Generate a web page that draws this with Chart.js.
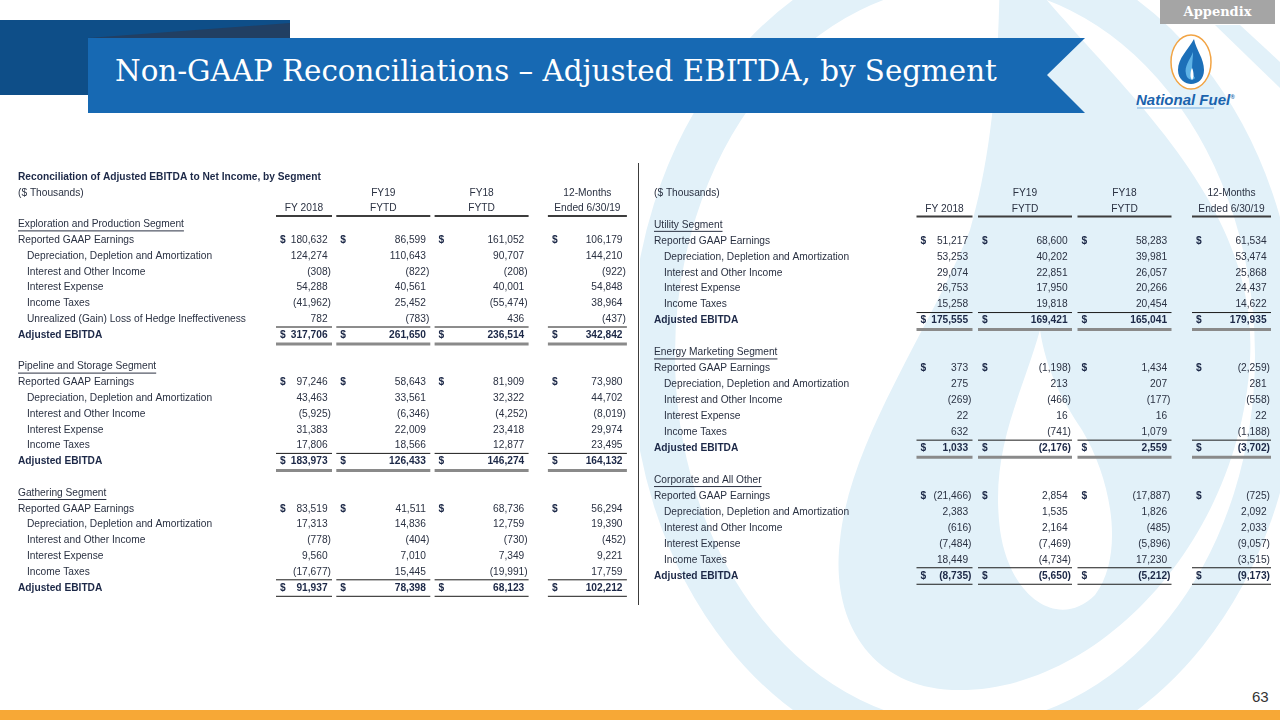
<!DOCTYPE html>
<html>
<head>
<meta charset="utf-8">
<script src="https://cdn.jsdelivr.net/npm/chart.js@4.4.1/dist/chart.umd.min.js"></script>
<style>
  html, body { margin:0; padding:0; }
  body { width:1280px; height:720px; position:relative; overflow:hidden; background:#fff; font-family:"Liberation Sans", Arial, sans-serif; }
  #bg { position:absolute; left:0; top:0; }
  #title { position:absolute; left:115px; top:57px; color:#fff; font-family:"DejaVu Serif", serif; font-size:30px; white-space:nowrap; line-height:1; }
  #appendix { position:absolute; left:1160px; top:0; width:115px; height:24px; background:#a5a5a5; color:#fff; font-family:"DejaVu Serif", serif; font-weight:bold; font-size:13px; text-align:center; line-height:24px; }
  #brand { position:absolute; left:1136px; top:91px; color:#1b63ad; font-family:"Liberation Sans", Arial, sans-serif; font-weight:bold; font-style:italic; font-size:15px; white-space:nowrap; }
  #brand sup { font-size:6px; }
  #page { position:absolute; left:1252px; top:688px; color:#333; font-size:15px; }
  canvas { position:absolute; top:160px; }
  #leftTable { left:0; }
  #rightTable { left:640px; }
</style>
</head>
<body>
<svg id="bg" width="1280" height="720" viewBox="0 0 1280 720">
  <defs>
    <clipPath id="rightHalf"><rect x="640" y="0" width="640" height="720"/></clipPath>
  </defs>
  <!-- watermark -->
  <g clip-path="url(#rightHalf)" fill="#e2f1f9">
    <ellipse cx="965" cy="355" rx="312" ry="392" fill="none" stroke="#e2f1f9" stroke-width="44"/>
    <path d="M1000 -60 C1080 60 1260 180 1250 360 C1240 540 1100 690 960 690 C870 690 830 620 840 540 C850 440 930 330 970 230 C990 160 1000 80 1000 -60 Z"/>
    <path d="M1040 330 C1020 400 990 450 1000 530 C1010 600 1060 630 1095 595 C1125 555 1112 480 1082 430 C1062 400 1046 370 1040 330 Z" fill="#fff"/>
  </g>
  <path d="M1215 25 L1240 25 L1280 62 L1280 88 Z" fill="#e2f1f9"/>
  <!-- banner -->
  <rect x="0" y="20" width="290" height="75" fill="#0e4e88"/>
  <polygon points="88,38 290,23 290,38" fill="#213f63"/>
  <polygon points="88,38 1085,38 1047,75 1085,113 88,113" fill="#1769b3"/>
  <!-- orange footer -->
  <rect x="0" y="710" width="1280" height="10" fill="#f7a836"/>
  <!-- logo -->
  <ellipse cx="1191" cy="62" rx="20" ry="27" fill="#fff" stroke="#f2a444" stroke-width="1.5"/>
  <path d="M1194 39 C1188 50 1178 58 1178 70 C1178 80 1186 84 1191 84 C1198 84 1204 79 1204 70 C1204 58 1196 50 1194 39 Z" fill="#1c6fb8"/>
  <path d="M1193 52 C1190 60 1184 66 1186 74 C1187 80 1193 81 1195 78 C1190 72 1193 62 1193 52 Z" fill="#5fb3e6"/>
  <path d="M1192 68 C1190 72 1190 78 1192 80 C1194 78 1194 72 1192 68 Z" fill="#fff"/>
  <line x1="1137" y1="108" x2="1214" y2="108" stroke="#9cc6ea" stroke-width="1.5"/>
  <!-- divider -->
  <line x1="638.5" y1="163" x2="638.5" y2="605" stroke="#3c3c3c" stroke-width="1"/>
</svg>
<div id="title">Non-GAAP Reconciliations – Adjusted EBITDA, by Segment</div>
<div id="appendix">Appendix</div>
<div id="brand">National Fuel<sup>®</sup></div>
<div id="page">63</div>
<canvas id="leftTable" width="640" height="450"></canvas>
<canvas id="rightTable" width="640" height="450"></canvas>
<script>
// column headings
var colHeads1 = ['', 'FY19', 'FY18', '12-Months'];
var colHeads2 = ['FY 2018', 'FYTD', 'FYTD', 'Ended 6/30/19'];

// row labels
var epLabels = ['Reported GAAP Earnings', 'Depreciation, Depletion and Amortization', 'Interest and Other Income', 'Interest Expense', 'Income Taxes', 'Unrealized (Gain) Loss of Hedge Ineffectiveness', 'Adjusted EBITDA'];
var segLabels = ['Reported GAAP Earnings', 'Depreciation, Depletion and Amortization', 'Interest and Other Income', 'Interest Expense', 'Income Taxes', 'Adjusted EBITDA'];

// values: FY 2018, FY19 FYTD, FY18 FYTD, 12-Months Ended 6/30/19 ($ thousands)
var epValues = [
  [180632, 86599, 161052, 106179],
  [124274, 110643, 90707, 144210],
  [-308, -822, -208, -922],
  [54288, 40561, 40001, 54848],
  [-41962, 25452, -55474, 38964],
  [782, -783, 436, -437],
  [317706, 261650, 236514, 342842]
];
var pipelineValues = [
  [97246, 58643, 81909, 73980],
  [43463, 33561, 32322, 44702],
  [-5925, -6346, -4252, -8019],
  [31383, 22009, 23418, 29974],
  [17806, 18566, 12877, 23495],
  [183973, 126433, 146274, 164132]
];
var gatheringValues = [
  [83519, 41511, 68736, 56294],
  [17313, 14836, 12759, 19390],
  [-778, -404, -730, -452],
  [9560, 7010, 7349, 9221],
  [-17677, 15445, -19991, 17759],
  [91937, 78398, 68123, 102212]
];
var utilityValues = [
  [51217, 68600, 58283, 61534],
  [53253, 40202, 39981, 53474],
  [29074, 22851, 26057, 25868],
  [26753, 17950, 20266, 24437],
  [15258, 19818, 20454, 14622],
  [175555, 169421, 165041, 179935]
];
var marketingValues = [
  [373, -1198, 1434, -2259],
  [275, 213, 207, 281],
  [-269, -466, -177, -558],
  [22, 16, 16, 22],
  [632, -741, 1079, -1188],
  [1033, -2176, 2559, -3702]
];
var corporateValues = [
  [-21466, 2854, -17887, -725],
  [2383, 1535, 1826, 2092],
  [-616, 2164, -485, 2033],
  [-7484, -7469, -5896, -9057],
  [18449, -4734, 17230, -3515],
  [-8735, -5650, -5212, -9173]
];

function addSegment(rows, name, labels, values, last) {
  rows.push({ label: name, kind: 'seg' });
  labels.forEach(function (lab, i) {
    var kind = i === 0 ? 'first' : (i === labels.length - 1 ? 'total' : 'item');
    rows.push({ label: lab, kind: kind, values: values[i], last: last });
  });
  if (!last) rows.push({ label: '', kind: 'blank' });
}

var leftRows = [
  { label: 'Reconciliation of Adjusted EBITDA to Net Income, by Segment', kind: 'title' },
  { label: '($ Thousands)', kind: 'head1' },
  { label: '', kind: 'head2' }
];
addSegment(leftRows, 'Exploration and Production Segment', epLabels, epValues);
addSegment(leftRows, 'Pipeline and Storage Segment', segLabels, pipelineValues);
addSegment(leftRows, 'Gathering Segment', segLabels, gatheringValues, true);

var rightRows = [
  { label: '', kind: 'title' },
  { label: '($ Thousands)', kind: 'head1' },
  { label: '', kind: 'head2' }
];
addSegment(rightRows, 'Utility Segment', segLabels, utilityValues);
addSegment(rightRows, 'Energy Marketing Segment', segLabels, marketingValues);
addSegment(rightRows, 'Corporate and All Other', segLabels, corporateValues, true);

function fmt(n) {
  var s = Math.abs(n).toLocaleString('en-US');
  return n < 0 ? '(' + s + ')' : s;
}

// one scatter dataset per value column, one point per cell
function buildDatasets(rows) {
  var sets = [];
  for (var j = 0; j < 4; j++) {
    var pts = [];
    rows.forEach(function (r, i) {
      if (r.values) pts.push({ x: j + 1, y: i, v: r.values[j] });
    });
    sets.push({ data: pts, pointRadius: 0, pointHoverRadius: 0 });
  }
  return sets;
}

var tableText = {
  id: 'tableText',
  afterDatasetsDraw: function (chart, args, o) {
    var c = chart.ctx, xs = chart.scales.x, ys = chart.scales.y;
    var left = chart.chartArea.left;
    var rows = o.rows;
    var reg = o.fontSize + 'px ' + o.family, bold = 'bold ' + reg;
    c.save();
    c.textBaseline = 'middle';
    c.font = reg;
    var parenW = c.measureText(')').width;

    function colRight(j) { return xs.getPixelForValue(j + 1); }
    function hline(x1, x2, y, w, col) {
      c.beginPath(); c.lineWidth = w; c.strokeStyle = col;
      c.moveTo(x1, y); c.lineTo(x2, y); c.stroke();
    }

    // row labels
    rows.forEach(function (r, i) {
      if (!r.label) return;
      var y = ys.getPixelForValue(i);
      var isBold = r.kind === 'title' || r.kind === 'total';
      c.font = isBold ? bold : reg;
      c.fillStyle = isBold ? o.boldColor : o.color;
      c.textAlign = 'left';
      var x = left + o.labelX + (r.kind === 'item' ? o.indent : 0);
      c.fillText(r.label, x, y);
      if (r.kind === 'seg') {
        hline(x, x + c.measureText(r.label).width, y + 6.5, 1, o.color);
      }
    });

    // column headings
    c.font = reg; c.fillStyle = o.color; c.textAlign = 'center';
    for (var j = 0; j < 4; j++) {
      var R = colRight(j) + 1, w = o.colWidths[j], cx = R - w / 2;
      c.fillText(colHeads1[j], cx, ys.getPixelForValue(1));
      c.fillText(colHeads2[j], cx, ys.getPixelForValue(2));
      hline(R - w, R, ys.getPixelForValue(2) + 7.5, 2, '#3d3d3d');
    }

    // cells
    chart.data.datasets.forEach(function (ds, j) {
      var meta = chart.getDatasetMeta(j);
      var w = o.colWidths[j];
      meta.data.forEach(function (pt, k) {
        var raw = ds.data[k], r = rows[raw.y];
        var R = pt.x, y = pt.y;
        var isTotal = r.kind === 'total';
        c.font = isTotal ? bold : reg;
        c.fillStyle = isTotal ? o.boldColor : o.color;
        c.textAlign = 'right';
        c.fillText(fmt(raw.v), raw.v < 0 ? R : R - parenW, y);
        if (r.kind === 'first' || isTotal) {
          c.font = bold; c.textAlign = 'left'; c.fillStyle = o.boldColor;
          c.fillText('$', R + 1 - w + 4, y);
        }
        if (isTotal) {
          hline(R + 1 - w, R + 1, y - 8, 1, '#1a1a1a');
          if (r.last) hline(R + 1 - w, R + 1, y + 8.5, 1, '#1a1a1a');
          else hline(R + 1 - w, R + 1, y + 9, 3, '#8a8a8a');
        }
      });
    });
    c.restore();
  }
};

function makeTable(id, rows, layout) {
  var canvas = document.getElementById(id);
  var xMin = 1 - layout.firstCol / layout.colStep;
  var yMin = -layout.firstRow / layout.rowStep;
  return new Chart(canvas.getContext('2d'), {
    type: 'scatter',
    data: { datasets: buildDatasets(rows) },
    options: {
      responsive: false,
      animation: false,
      devicePixelRatio: 1,
      events: [],
      layout: { padding: 0 },
      plugins: {
        legend: { display: false },
        tooltip: { enabled: false },
        tableText: {
          rows: rows,
          family: '"Liberation Sans", Arial, sans-serif',
          fontSize: 10.2,
          color: '#2a3142',
          boldColor: '#1c2847',
          labelX: layout.labelX,
          indent: layout.indent,
          colWidths: [56, 94, 94, 79]
        }
      },
      scales: {
        x: { type: 'linear', display: false, min: xMin, max: xMin + canvas.width / layout.colStep },
        y: { type: 'linear', display: false, reverse: true, min: yMin, max: yMin + canvas.height / layout.rowStep }
      }
    },
    plugins: [tableText]
  });
}

makeTable('leftTable', leftRows, { firstCol: 331, colStep: 98.3, firstRow: 17, rowStep: 15.8, labelX: 18, indent: 9 });
makeTable('rightTable', rightRows, { firstCol: 331.5, colStep: 99.5, firstRow: 17, rowStep: 15.95, labelX: 14, indent: 10 });

// fit banner title to its width in the slide
var t = document.getElementById('title');
var tw = t.getBoundingClientRect().width;
t.style.fontSize = (30 * 882 / tw) + 'px';
</script>
</body>
</html>
